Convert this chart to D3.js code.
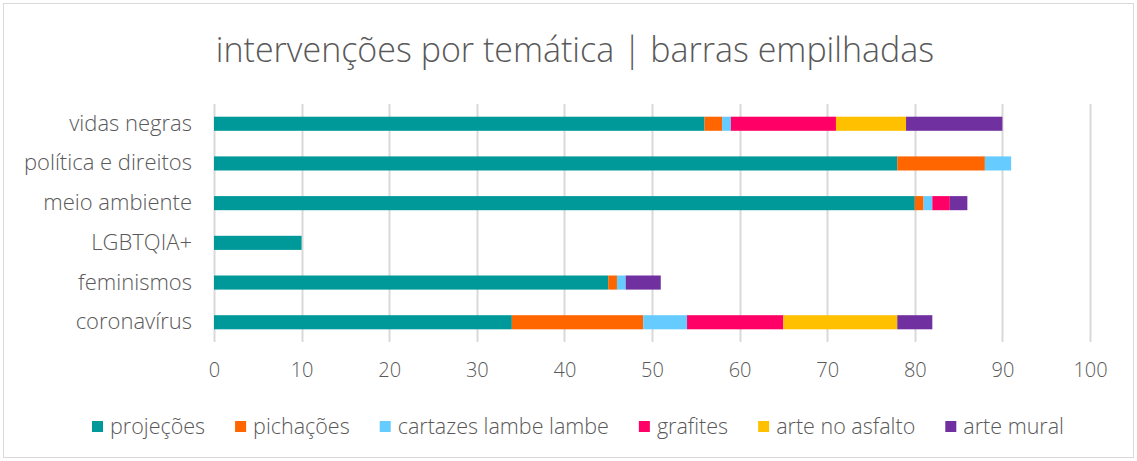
<!DOCTYPE html>
<html>
<head>
<meta charset="utf-8">
<script src="https://cdn.jsdelivr.net/npm/d3@7"></script>
<style>
  body { margin: 0; background: #fff; }
  text { font-family: "Open Sans", sans-serif; fill: #595959; }
</style>
</head>
<body>
<div id="chart"></div>
<script>
// data
var categories = ["vidas negras", "política e direitos", "meio ambiente", "LGBTQIA+", "feminismos", "coronavírus"];
var seriesNames = ["projeções", "pichações", "cartazes lambe lambe", "grafites", "arte no asfalto", "arte mural"];
var projecoes = [56, 78, 80, 10, 45, 34];
var pichacoes = [2, 10, 1, 0, 1, 15];
var cartazes = [1, 3, 1, 0, 1, 5];
var grafites = [12, 0, 2, 0, 0, 11];
var asfalto = [8, 0, 0, 0, 0, 13];
var mural = [11, 0, 2, 0, 4, 4];
var xTicks = [0, 10, 20, 30, 40, 50, 60, 70, 80, 90, 100];
var colors = ["#009999", "#ff6600", "#66ccff", "#ff0066", "#ffc000", "#7030a0"];

var width = 1137, height = 461;
var margin = { top: 104, right: 47, bottom: 119, left: 214 };
var innerW = width - margin.left - margin.right;
var innerH = height - margin.top - margin.bottom;

// table for the stack
var values = [projecoes, pichacoes, cartazes, grafites, asfalto, mural];
var table = categories.map(function (c, i) {
  var row = { cat: c };
  seriesNames.forEach(function (s, j) { row[s] = values[j][i]; });
  return row;
});
var stacked = d3.stack().keys(seriesNames)(table);

var svg = d3.select("#chart").append("svg")
  .attr("width", width)
  .attr("height", height);

// chart border
svg.append("rect")
  .attr("x", 3.5).attr("y", 3.5)
  .attr("width", width - 7).attr("height", height - 7)
  .attr("fill", "#fff")
  .attr("stroke", "#d9d9d9");

svg.append("text")
  .attr("x", 575)
  .attr("y", 62)
  .attr("text-anchor", "middle")
  .style("font-size", "34px")
  .style("font-weight", "300")
  .text("intervenções por temática | barras empilhadas");

var g = svg.append("g")
  .attr("transform", "translate(" + margin.left + "," + margin.top + ")");

var x = d3.scaleLinear().domain([0, 100]).range([0, innerW]);
var y = d3.scaleBand().domain(categories).range([0, innerH]).paddingInner(0.645).paddingOuter(0.32);

// gridlines
g.selectAll(".grid")
  .data(xTicks)
  .enter().append("line")
  .attr("x1", function (d) { return Math.round(x(d)) + 0.5; })
  .attr("x2", function (d) { return Math.round(x(d)) + 0.5; })
  .attr("y1", 0)
  .attr("y2", innerH)
  .attr("stroke", "#d9d9d9")
  .attr("stroke-width", 2);

// bars
g.selectAll(".series")
  .data(stacked)
  .enter().append("g")
  .attr("fill", function (d, i) { return colors[i]; })
  .selectAll("rect")
  .data(function (d) { return d; })
  .enter().append("rect")
  .attr("x", function (d) { return x(d[0]); })
  .attr("y", function (d) { return y(d.data.cat); })
  .attr("width", function (d) { return x(d[1]) - x(d[0]); })
  .attr("height", y.bandwidth());

// x axis
var xAxis = g.append("g")
  .attr("transform", "translate(0," + innerH + ")")
  .call(d3.axisBottom(x).tickValues(xTicks).tickSize(0).tickPadding(21));
xAxis.select(".domain").remove();
xAxis.selectAll("text").style("font-size", "20px").style("font-weight", "300").attr("fill", "#595959");

// y axis
var yAxis = g.append("g")
  .call(d3.axisLeft(y).tickSize(0).tickPadding(22));
yAxis.select(".domain").remove();
yAxis.selectAll("text").style("font-size", "22px").style("font-weight", "300").attr("fill", "#595959");

// legend
var legend = svg.append("g").attr("transform", "translate(92,434)");
var lx = 0;
seriesNames.forEach(function (s, i) {
  var item = legend.append("g").attr("transform", "translate(" + lx + ",0)");
  item.append("rect")
    .attr("x", 0).attr("y", -13)
    .attr("width", 11).attr("height", 11)
    .attr("fill", colors[i]);
  var t = item.append("text")
    .attr("x", 18)
    .attr("y", 0)
    .style("font-size", "21.5px")
    .style("font-weight", "300")
    .text(s);
  lx += 18 + t.node().getComputedTextLength() + 30;
});
</script>
</body>
</html>
